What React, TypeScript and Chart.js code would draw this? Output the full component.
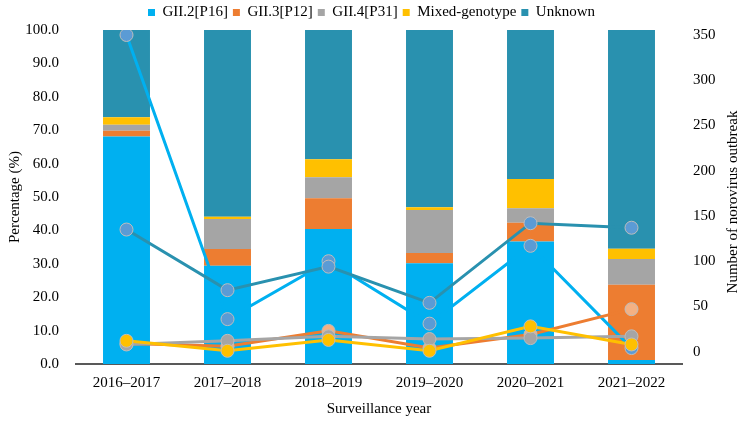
import React, { useEffect, useRef } from "react";
import { Chart, registerables } from "chart.js";

Chart.register(...registerables);

const categories = ["2016–2017", "2017–2018", "2018–2019", "2019–2020", "2020–2021", "2021–2022"];

// Percentage (%) stacked bars
const pctGII2 = [68.1, 29.4, 40.4, 30.2, 36.7, 1.2];
const pctGII3 = [1.7, 5.0, 9.2, 3.0, 5.6, 22.5];
const pctGII4 = [1.8, 9.0, 6.3, 12.9, 4.3, 7.7];
const pctMixed = [2.3, 0.7, 5.4, 0.8, 8.8, 3.1];
const pctUnknown = [26.1, 55.9, 38.7, 53.1, 44.6, 65.5];

// Number of norovirus outbreaks (lines)
const numGII2 = [350, 36, 100, 31, 117, 4];
const numGII3 = [9, 6, 23, 4, 19, 47];
const numGII4 = [8, 12, 17, 14, 15, 17];
const numMixed = [12, 1, 13, 1, 28, 8];
const numUnknown = [135, 68, 94, 54, 142, 137];

const rightTicks = [0, 50, 100, 150, 200, 250, 300, 350];
const rightTitle = "Number of norovirus outbreak";

const C_GII2 = "#00B0F0";
const C_GII3 = "#ED7D31";
const C_GII4 = "#A5A5A5";
const C_MIX = "#FFC000";
const C_UNK = "#2991AF";

const FONT = "'Liberation Serif', 'Times New Roman', serif";

export default function App() {
  const ref = useRef<HTMLCanvasElement | null>(null);

  useEffect(() => {
    if (!ref.current) return;
    const lineDs = (label: string, data: number[], color: string, pointFill: string, order: number) => ({
      type: "line" as const,
      label,
      data,
      yAxisID: "y1",
      borderColor: color,
      backgroundColor: pointFill,
      pointBackgroundColor: pointFill,
      pointBorderColor: "#BDBDBD",
      pointBorderWidth: 1,
      pointRadius: 6.5,
      borderWidth: 3,
      tension: 0,
      order,
    });
    const barDs = (label: string, data: number[], color: string) => ({
      type: "bar" as const,
      label,
      data,
      yAxisID: "y",
      backgroundColor: color,
      borderWidth: 0,
      order: 10,
      categoryPercentage: 1,
      barPercentage: 0.465,
    });

    const legendHeightPlugin = {
      id: "legendHeight",
      beforeInit(chart: any) {
        const orig = chart.legend.fit;
        chart.legend.fit = function () {
          orig.bind(chart.legend)();
          this.height = 30;
        };
      },
    };

    const rightTitlePlugin = {
      id: "rightTitle",
      afterDraw(chart: any) {
        const ctx = chart.ctx;
        const area = chart.chartArea;
        ctx.save();
        ctx.translate(chart.width - 10, (area.top + area.bottom) / 2 + 5);
        ctx.rotate(-Math.PI / 2);
        ctx.textAlign = "center";
        ctx.textBaseline = "middle";
        ctx.fillStyle = "#000";
        ctx.font = "15px " + FONT;
        ctx.fillText(rightTitle, 0, 0);
        ctx.restore();
      },
    };

    const chart = new Chart(ref.current, {
      data: {
        labels: categories,
        datasets: [
          barDs("GII.2[P16]", pctGII2, C_GII2),
          barDs("GII.3[P12]", pctGII3, C_GII3),
          barDs("GII.4[P31]", pctGII4, C_GII4),
          barDs("Mixed-genotype", pctMixed, C_MIX),
          barDs("Unknown", pctUnknown, C_UNK),
          lineDs("GII.2[P16] n", numGII2, C_GII2, "#5B9BD5", 4),
          lineDs("GII.3[P12] n", numGII3, C_GII3, "#F4B183", 2),
          lineDs("GII.4[P31] n", numGII4, C_GII4, "#A5A5A5", 1),
          lineDs("Mixed-genotype n", numMixed, C_MIX, "#FFC000", 0),
          lineDs("Unknown n", numUnknown, C_UNK, "#5B9BD5", 3),
        ] as any,
      },
      plugins: [legendHeightPlugin, rightTitlePlugin],
      options: {
        responsive: false,
        animation: false,
        layout: { padding: 0 },
        plugins: {
          tooltip: { enabled: false },
          legend: {
            position: "top",
            labels: {
              filter: (item: any) => item.datasetIndex < 5,
              boxWidth: 7,
              boxHeight: 7,
              padding: 5,
              color: "#000",
              font: { family: FONT, size: 15 },
            },
          },
        },
        scales: {
          x: {
            stacked: true,
            grid: { display: false, drawTicks: false },
            border: { display: true, color: "#595959", width: 2 },
            ticks: { color: "#000", font: { family: FONT, size: 15 }, padding: 10 },
            title: {
              display: true,
              text: "Surveillance year",
              color: "#000",
              font: { family: FONT, size: 15 },
              padding: { top: 4, bottom: 4 },
            },
            afterFit: (s: any) => {
              s.height = 58;
            },
          },
          y: {
            stacked: true,
            position: "left",
            min: 0,
            max: 100,
            grid: { display: false, drawTicks: false },
            border: { display: false },
            ticks: {
              stepSize: 10,
              color: "#000",
              font: { family: FONT, size: 15 },
              padding: 17,
              callback: (v: any) => Number(v).toFixed(1),
            },
            title: {
              display: true,
              text: "Percentage (%)",
              color: "#000",
              font: { family: FONT, size: 15 },
              padding: { top: 6, bottom: 0 },
            },
            afterFit: (s: any) => {
              s.width = 76;
            },
          },
          y1: {
            position: "right",
            stacked: false,
            min: -13.6,
            max: 355.5,
            grid: { display: false, drawTicks: false },
            border: { display: false },
            afterBuildTicks: (axis: any) => {
              axis.ticks = rightTicks.map((v) => ({ value: v }));
            },
            ticks: {
              color: "#000",
              font: { family: FONT, size: 15 },
              padding: 11,
            },
            title: { display: false },
            afterFit: (s: any) => {
              s.width = 61;
            },
          },
        },
      } as any,
    });
    return () => chart.destroy();
  }, []);

  return (
    <div style={{ position: "fixed", left: 0, top: 0, width: 743, height: 422, background: "#fff" }}>
      <canvas ref={ref} width={743} height={422} style={{ width: 743, height: 422 }} />
    </div>
  );
}
